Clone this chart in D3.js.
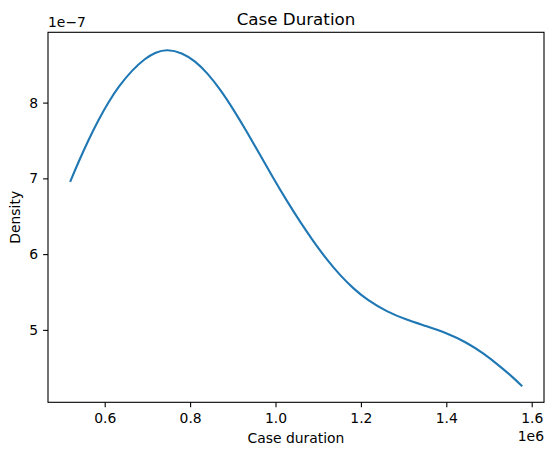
<!DOCTYPE html>
<html>
<head>
<meta charset="utf-8">
<script src="https://cdn.jsdelivr.net/npm/d3@7"></script>
<style>
  body { margin: 0; background: #fff; }
  svg text { font-family: "DejaVu Sans", sans-serif; fill: #000; }
</style>
</head>
<body>
<div class="chart"></div>
<script>
// case duration (x 1e6) and estimated density (x 1e-7)
const durations = [0.520, 0.539, 0.563, 0.586, 0.609, 0.633, 0.664, 0.695, 0.719, 0.746,
  0.781, 0.812, 0.840, 0.871, 0.902, 0.933, 0.964, 0.995, 1.027, 1.058,
  1.089, 1.120, 1.151, 1.183, 1.214, 1.261, 1.307, 1.354, 1.401, 1.448,
  1.487, 1.526, 1.557, 1.576];
const densities = [6.967, 7.222, 7.519, 7.779, 8.009, 8.215, 8.429, 8.584, 8.666, 8.706,
  8.660, 8.548, 8.394, 8.171, 7.904, 7.613, 7.309, 7.002, 6.698, 6.422,
  6.165, 5.929, 5.721, 5.542, 5.399, 5.239, 5.133, 5.048, 4.956, 4.834,
  4.690, 4.518, 4.369, 4.266];
const x_ticks = [0.6, 0.8, 1.0, 1.2, 1.4, 1.6];
const y_ticks = [5, 6, 7, 8];

const W = 554, H = 455;
const margin = { top: 32.3, right: 10, bottom: 52.7, left: 48 };
const graph_w = W - margin.left - margin.right;
const graph_h = H - margin.top - margin.bottom;

const svg = d3.select('.chart').append('svg').attr('width', W).attr('height', H);
const graph = svg.append('g').attr('transform', `translate(${margin.left}, ${margin.top})`);

// matplotlib style 5% padding
const xmin = d3.min(durations), xmax = d3.max(durations);
const ymin = d3.min(densities), ymax = d3.max(densities);
const xpad = (xmax - xmin) * 0.05, ypad = (ymax - ymin) * 0.05;
const x = d3.scaleLinear().domain([xmin - xpad, xmax + xpad]).range([0, graph_w]);
const y = d3.scaleLinear().domain([ymin - ypad, ymax + ypad]).range([graph_h, 0]);

const pts = durations.map((d, i) => [d, densities[i]]);
// basis spline smooths out the reading noise
const line = d3.line().x(d => x(d[0])).y(d => y(d[1])).curve(d3.curveBasis);

graph.append('path').datum(pts)
  .attr('fill', 'none').attr('stroke', '#1f77b4').attr('stroke-width', 2.1)
  .attr('stroke-linecap', 'square').attr('d', line);

// axes
const x_axis = d3.axisBottom(x).tickValues(x_ticks).tickFormat(d3.format('.1f')).tickSize(4.9).tickPadding(4.9);
const y_axis = d3.axisLeft(y).tickValues(y_ticks).tickFormat(d => d).tickSize(4.9).tickPadding(4.9);

const xg = graph.append('g').attr('transform', `translate(0, ${graph_h})`).call(x_axis);
const yg = graph.append('g').call(y_axis);
[xg, yg].forEach(g => {
  g.select('.domain').remove();
  g.selectAll('line').attr('stroke', '#000').attr('stroke-width', 1.1);
  g.selectAll('text').style('font-size', '13.9px');
});
xg.selectAll('text').attr('dy', '0.75em');

// frame
graph.append('rect').attr('width', graph_w).attr('height', graph_h)
  .attr('fill', 'none').attr('stroke', '#000').attr('stroke-width', 1.1);

// labels
svg.append('text').attr('x', margin.left + graph_w / 2).attr('y', 25)
  .attr('text-anchor', 'middle').style('font-size', '16.7px').text('Case Duration');
svg.append('text').attr('x', margin.left + graph_w / 2).attr('y', 443)
  .attr('text-anchor', 'middle').style('font-size', '13.9px').text('Case duration');
svg.append('text').attr('transform', `translate(20, ${margin.top + graph_h / 2}) rotate(-90)`)
  .attr('text-anchor', 'middle').style('font-size', '13.9px').text('Density');
svg.append('text').attr('x', margin.left + graph_w).attr('y', 441)
  .attr('text-anchor', 'end').style('font-size', '13.9px').text('1e6');
svg.append('text').attr('x', margin.left).attr('y', 27)
  .attr('text-anchor', 'start').style('font-size', '13.9px').text('1e\u22127');
</script>
</body>
</html>
